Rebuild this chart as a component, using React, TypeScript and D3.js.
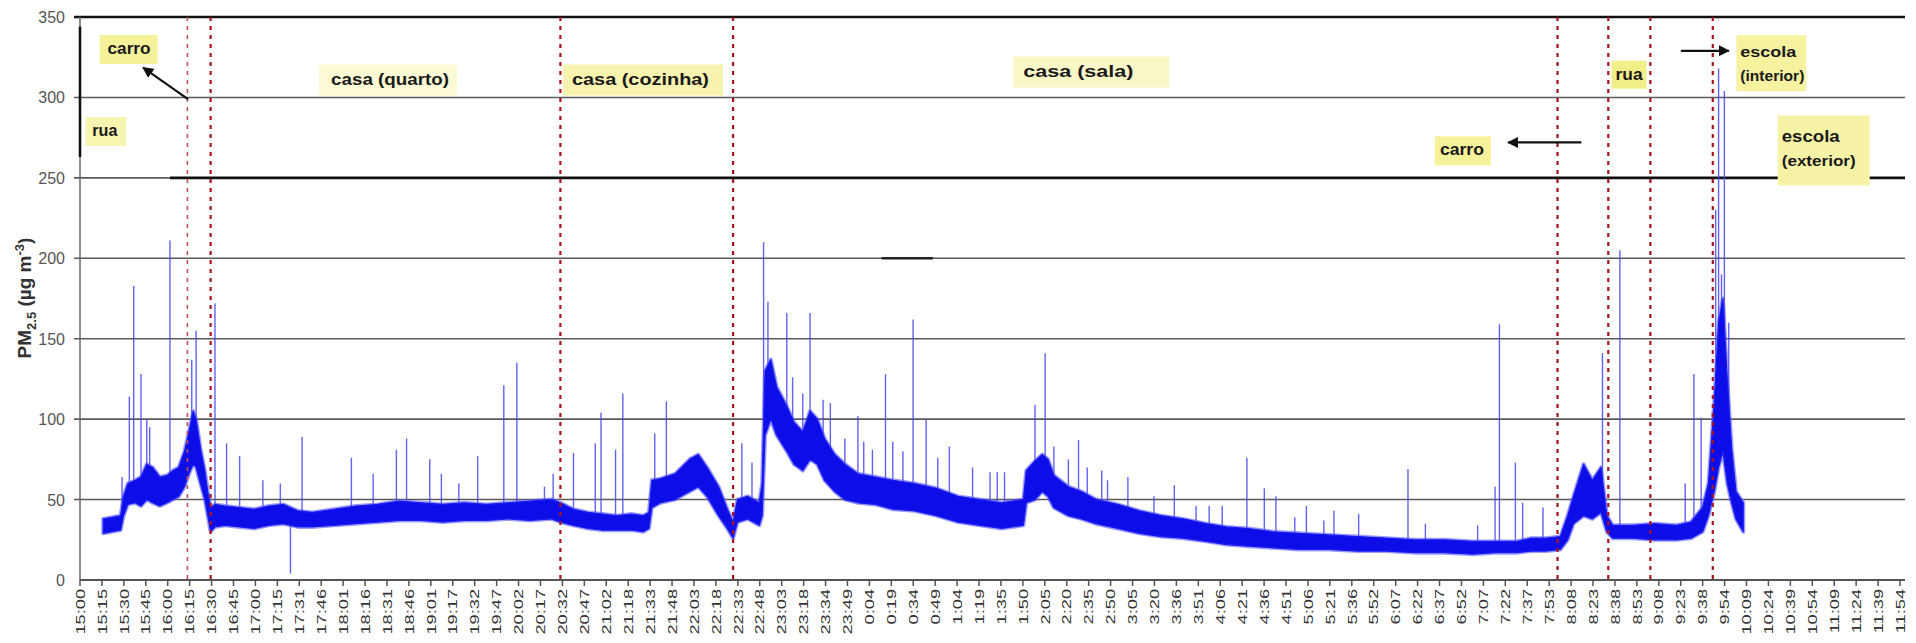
import React, { useEffect, useRef } from "react";
import * as d3 from "d3";

const W = 1916;
const H = 643;

// category labels of the time axis (one every ~15 min)
const tickLabels = [
  "15:00", "15:15", "15:30", "15:45", "16:00", "16:15", "16:30", "16:45",
  "17:00", "17:15", "17:31", "17:46", "18:01", "18:16", "18:31", "18:46",
  "19:01", "19:17", "19:32", "19:47", "20:02", "20:17", "20:32", "20:47",
  "21:02", "21:18", "21:33", "21:48", "22:03", "22:18", "22:33", "22:48",
  "23:03", "23:18", "23:34", "23:49", "0:04", "0:19", "0:34", "0:49",
  "1:04", "1:19", "1:35", "1:50", "2:05", "2:20", "2:35", "2:50",
  "3:05", "3:20", "3:36", "3:51", "4:06", "4:21", "4:36", "4:51",
  "5:06", "5:21", "5:36", "5:52", "6:07", "6:22", "6:37", "6:52",
  "7:07", "7:22", "7:37", "7:53", "8:08", "8:23", "8:38", "8:53",
  "9:08", "9:23", "9:38", "9:54", "10:09", "10:24", "10:39", "10:54",
  "11:09", "11:24", "11:39", "11:54",
];
const axisSpanMinutes = 1254; // 15:00 -> 11:54
const yTickValues = [0, 50, 100, 150, 200, 250, 300, 350];

// dense PM2.5 signal, read as lower / upper envelope (minutes after 15:00, µg m-3)
const bandTime = [
  16, 22, 28, 30, 33, 38, 42, 46, 50, 55, 60, 64, 68, 72, 75, 78, 80, 83, 86, 88,
  90, 93, 100, 110, 120, 130, 140, 150, 160, 175, 190, 205, 220, 235, 250, 265, 280, 295, 310, 325,
  331, 340, 350, 360, 370, 380, 388, 392, 394, 400, 410, 420, 426, 432, 440, 446, 450, 453, 460, 468,
  470, 472, 476, 480, 487, 492, 498, 503, 508, 513, 520, 527, 536, 548, 560, 575, 590, 605, 620, 635,
  650, 652, 658, 663, 667, 671, 681, 690, 700, 715, 730, 745, 760, 776, 790, 805, 822, 840, 860, 880,
  900, 920, 940, 960, 975, 990, 1000, 1010, 1020, 1025, 1029, 1036, 1042, 1048, 1052, 1056, 1070, 1085, 1100, 1110,
  1118, 1122, 1126, 1129, 1132, 1135, 1138, 1141, 1146,
];
const bandLow = [
  29, 30, 31, 40, 47, 48, 46, 50, 48, 46, 48, 50, 52, 58, 66, 72, 70, 60, 50, 40,
  30, 33, 34, 33, 32, 34, 35, 33, 33, 34, 35, 36, 37, 37, 36, 37, 37, 38, 37, 38,
  36, 34, 32, 31, 31, 31, 30, 32, 45, 48, 50, 55, 58, 52, 40, 32, 26, 36, 38, 34,
  40, 90, 100, 90, 80, 72, 68, 75, 72, 62, 55, 50, 48, 47, 44, 43, 40, 36, 34, 32,
  34, 48, 50, 55, 52, 45, 40, 38, 35, 32, 29, 27, 26, 24, 22, 21, 20, 19, 19, 18,
  18, 17, 17, 16, 17, 17, 18, 18, 19, 25, 35, 40, 38, 42, 30, 26, 26, 25, 25, 26,
  30, 40, 55, 70, 80, 60, 48, 38, 30,
];
const bandHigh = [
  38, 39, 40, 52, 60, 62, 64, 72, 70, 64, 65, 68, 70, 80, 92, 105, 100, 82, 68, 55,
  45, 47, 46, 45, 44, 46, 47, 43, 42, 44, 46, 47, 49, 48, 47, 48, 47, 48, 49, 50,
  48, 44, 42, 41, 40, 41, 40, 42, 62, 63, 66, 75, 78, 70, 58, 44, 36, 50, 52, 48,
  60, 130, 137, 120, 108, 98, 92, 105, 100, 88, 78, 72, 66, 64, 62, 60, 57, 52, 50, 48,
  50, 68, 74, 78, 75, 65, 58, 55, 50, 47, 43, 40, 38, 35, 33, 32, 30, 29, 28, 27,
  26, 25, 25, 24, 24, 24, 26, 26, 27, 40, 52, 72, 62, 70, 40, 34, 34, 35, 34, 36,
  45, 60, 110, 160, 175, 125, 82, 55, 48,
];

// isolated peaks of the signal (minutes after 15:00, µg m-3)
const spikeTime = [
  29, 34, 37, 42, 46, 48, 62, 77, 80, 93, 101, 110, 126, 138, 145, 153, 187, 202, 218, 225,
  241, 249, 261, 274, 292, 301, 320, 326, 340, 355, 359, 369, 374, 396, 404, 456, 463, 471, 474, 487,
  491, 498, 503, 512, 517, 527, 536, 540, 546, 555, 560, 567, 574, 583, 591, 599, 615, 627, 632, 637,
  658, 665, 671, 681, 688, 694, 704, 708, 722, 740, 754, 769, 778, 787, 804, 816, 824, 837, 845, 857,
  864, 881, 915, 927, 963, 975, 978, 989, 994, 1008, 1049, 1061, 1106, 1112, 1117, 1127, 1129, 1131, 1133, 1136,
];
const spikeValue = [
  64, 114, 183, 128, 100, 95, 211, 137, 155, 172, 85, 77, 62, 60, 4, 89, 76, 66, 81, 88,
  75, 66, 60, 77, 121, 135, 58, 66, 79, 85, 104, 81, 116, 91, 111, 85, 73, 210, 173, 166,
  126, 116, 166, 112, 110, 88, 102, 86, 81, 128, 86, 80, 162, 100, 76, 83, 70, 67, 67, 67,
  109, 141, 83, 75, 87, 70, 68, 62, 64, 52, 59, 46, 46, 46, 76, 57, 52, 39, 46, 37,
  43, 41, 69, 35, 34, 58, 159, 73, 48, 45, 141, 205, 60, 128, 101, 230, 318, 190, 304, 160,
];

// change of micro-environment (red dashed lines)
const eventTimes = ["16:14", "16:30", "20:31", "22:30", "7:58", "8:33", "9:02", "9:45"];

// text labels anchored in (minutes, µg m-3); len = rendered text width, pad = [l, t, r, b]
const annotations = [
  { lines: ["carro"], t: 19, v: 327, fill: "#f6f29a", size: [16], len: [43], pad: [8, 9, 7, 9] },
  { lines: ["rua"], t: 8.5, v: 276, fill: "#f8f5b0", size: [16], len: [25], pad: [7, 9, 9, 9] },
  { lines: ["casa (quarto)"], t: 173, v: 308, fill: "#fbfad4", size: [16], len: [118], pad: [12, 10, 8, 10] },
  { lines: ["casa (cozinha)"], t: 339, v: 308, fill: "#f8f4b0", size: [16], len: [137], pad: [9, 10, 14, 10] },
  { lines: ["casa (sala)"], t: 650, v: 313, fill: "#fbf8c8", size: [16], len: [110], pad: [10, 10, 36, 10] },
  { lines: ["carro"], t: 937, v: 264, fill: "#f6f29a", size: [16], len: [44], pad: [5, 9, 7, 9] },
  { lines: ["rua"], t: 1058, v: 311, fill: "#f3ef88", size: [16], len: [27], pad: [4, 9, 4, 8] },
  { lines: ["escola", "(interior)"], t: 1144, v: 325, fill: "#f6f2a0", size: [15, 14], len: [56, 64], pad: [4, 12, 2, 9] },
  { lines: ["escola", "(exterior)"], t: 1172.5, v: 272, fill: "#f7f3a6", size: [16, 14], len: [58, 74], pad: [4, 17, 14, 18] },
];

// arrows: [from (t, v), to (t, v)]
const arrows = [
  [[74.4, 299], [43.5, 318.5]],
  [[1034.5, 272], [984, 272]],
  [[1103, 329], [1136, 329]],
];

function toMinutes(s: string) {
  const [h, m] = s.split(":").map(Number);
  let t = h * 60 + m - 15 * 60;
  if (t < 0) t += 1440;
  return t;
}

export default function App() {
  const ref = useRef<SVGSVGElement | null>(null);

  useEffect(() => {
    const svg = d3.select(ref.current);
    svg.selectAll("*").remove();

    const left = 80;
    const right = 1905;
    const x = d3.scaleLinear().domain([0, axisSpanMinutes]).range([left, 1900]);
    const y = d3.scaleLinear().domain([0, 350]).range([580, 17]);
    const font = "'Liberation Sans', Arial, sans-serif";

    const defs = svg.append("defs");
    defs
      .append("marker")
      .attr("id", "arr")
      .attr("viewBox", "0 0 10 10")
      .attr("refX", 9)
      .attr("refY", 5)
      .attr("markerWidth", 5)
      .attr("markerHeight", 5)
      .attr("orient", "auto")
      .append("path")
      .attr("d", "M0,0 L10,5 L0,10 z")
      .attr("fill", "#111");

    svg.append("rect").attr("width", W).attr("height", H).attr("fill", "#fff");

    // gridlines
    svg
      .append("g")
      .selectAll("line")
      .data(yTickValues.filter((v) => v > 0))
      .join("line")
      .attr("x1", 74)
      .attr("x2", right)
      .attr("y1", (d) => y(d))
      .attr("y2", (d) => y(d))
      .attr("stroke", (d) => (d === 350 ? "#111" : "#5a5a5a"))
      .attr("stroke-width", (d) => (d === 350 ? 2.6 : 1.6));

    // thick reference line at 250
    svg
      .append("line")
      .attr("x1", x(62))
      .attr("x2", right)
      .attr("y1", y(250))
      .attr("y2", y(250))
      .attr("stroke", "#111")
      .attr("stroke-width", 2.6);

    // small dark stroke at 200
    svg
      .append("line")
      .attr("x1", x(553))
      .attr("x2", x(587))
      .attr("y1", y(200))
      .attr("y2", y(200))
      .attr("stroke", "#222")
      .attr("stroke-width", 2.6)
      .attr("stroke-linecap", "round");

    // y axis
    svg
      .append("line")
      .attr("x1", left)
      .attr("x2", left)
      .attr("y1", y(350))
      .attr("y2", y(0))
      .attr("stroke", "#666")
      .attr("stroke-width", 1.5);
    svg
      .append("line")
      .attr("x1", left)
      .attr("x2", left)
      .attr("y1", y(344))
      .attr("y2", y(263))
      .attr("stroke", "#111")
      .attr("stroke-width", 2.6);

    // y tick labels
    svg
      .append("g")
      .selectAll("text")
      .data(yTickValues)
      .join("text")
      .attr("x", 65)
      .attr("y", (d) => y(d) + 6)
      .attr("text-anchor", "end")
      .attr("font-family", font)
      .attr("font-size", 16)
      .attr("fill", "#555")
      .text((d) => String(d));

    // y title
    const yt = svg
      .append("text")
      .attr("transform", "translate(31,298) rotate(-90)")
      .attr("text-anchor", "middle")
      .attr("font-family", font)
      .attr("font-weight", "bold")
      .attr("font-size", 19)
      .attr("fill", "#333");
    yt.append("tspan").text("PM");
    yt.append("tspan").attr("font-size", 13).attr("dy", 5).text("2.5");
    yt.append("tspan").attr("dy", -5).text(" (µg m");
    yt.append("tspan").attr("font-size", 13).attr("dy", -7).text("-3");
    yt.append("tspan").attr("dy", 7).text(")");

    // x axis
    svg
      .append("line")
      .attr("x1", left)
      .attr("x2", right)
      .attr("y1", y(0))
      .attr("y2", y(0))
      .attr("stroke", "#555")
      .attr("stroke-width", 2);
    const tickPos = tickLabels.map((_, i) => x((i * axisSpanMinutes) / (tickLabels.length - 1)));
    svg
      .append("g")
      .selectAll("line")
      .data(tickPos)
      .join("line")
      .attr("x1", (d) => d)
      .attr("x2", (d) => d)
      .attr("y1", y(0))
      .attr("y2", y(0) + 6)
      .attr("stroke", "#555")
      .attr("stroke-width", 1.5);
    svg
      .append("g")
      .selectAll("text")
      .data(tickLabels)
      .join("text")
      .attr("transform", (_, i) => `translate(${tickPos[i] + 4.7},${y(0) + 9}) rotate(-90) scale(1.4,1)`)
      .attr("text-anchor", "end")
      .attr("font-family", font)
      .attr("font-size", 13)
      .attr("fill", "#333")
      .text((d) => d);

    // signal band
    const band = bandTime.map((t, i) => ({ t, lo: bandLow[i], hi: bandHigh[i] }));
    const bis = d3.bisector((d: any) => d.t).left;
    const bandAt = (t: number) => {
      const i = bis(band, t);
      if (i <= 0) return band[0];
      if (i >= band.length) return band[band.length - 1];
      const a = band[i - 1];
      const b = band[i];
      const f = (t - a.t) / (b.t - a.t);
      return { t, lo: a.lo + f * (b.lo - a.lo), hi: a.hi + f * (b.hi - a.hi) };
    };

    // spikes
    svg
      .append("g")
      .selectAll("line")
      .data(spikeTime.map((t, i) => ({ t, v: spikeValue[i] })))
      .join("line")
      .attr("x1", (d) => x(d.t))
      .attr("x2", (d) => x(d.t))
      .attr("y1", (d) => {
        const b = bandAt(d.t);
        return d.v < b.lo ? y(b.lo) : y((b.lo + b.hi) / 2);
      })
      .attr("y2", (d) => y(d.v))
      .attr("stroke", "#4646f4")
      .attr("stroke-opacity", 0.85)
      .attr("stroke-width", 1.4);

    const area = d3
      .area<any>()
      .x((d) => x(d.t))
      .y0((d) => y(d.lo))
      .y1((d) => y(d.hi))
      .curve(d3.curveLinear);
    // soft fringe
    svg
      .append("path")
      .attr("d", area(band) as string)
      .attr("fill", "none")
      .attr("stroke", "#5a5aff")
      .attr("stroke-opacity", 0.6)
      .attr("stroke-width", 4)
      .attr("stroke-linejoin", "round");
    svg
      .append("path")
      .attr("d", area(band) as string)
      .attr("fill", "#0d0de8")
      .attr("stroke", "#1a1af0")
      .attr("stroke-width", 1.2)
      .attr("stroke-linejoin", "round");

    // event lines
    svg
      .append("g")
      .selectAll("line")
      .data(eventTimes)
      .join("line")
      .attr("x1", (d) => x(toMinutes(d)))
      .attr("x2", (d) => x(toMinutes(d)))
      .attr("y1", y(350))
      .attr("y2", y(0))
      .attr("stroke", (_, i) => (i === 0 ? "#c0505a" : "#a8141c"))
      .attr("stroke-width", (_, i) => (i === 0 ? 1.6 : 2.2))
      .attr("stroke-dasharray", "4 5");

    // annotations
    annotations.forEach((a) => {
      const g = svg.append("g");
      const x0 = x(a.t);
      const y0 = y(a.v);
      const rect = g.append("rect");
      const texts = a.lines.map((ln, k) =>
        g
          .append("text")
          .attr("x", x0)
          .attr("y", y0 + k * 24)
          .attr("font-family", font)
          .attr("font-weight", "bold")
          .attr("font-size", a.size[k])
          .attr("textLength", a.len[k])
          .attr("lengthAdjust", "spacingAndGlyphs")
          .attr("fill", "#1a1a1a")
          .text(ln)
      );
      let bx0 = Infinity, by0 = Infinity, bx1 = -Infinity, by1 = -Infinity;
      texts.forEach((tx, k) => {
        const bb = (tx.node() as SVGTextElement).getBBox();
        bx0 = Math.min(bx0, x0);
        by0 = Math.min(by0, bb.y);
        bx1 = Math.max(bx1, x0 + a.len[k]);
        by1 = Math.max(by1, bb.y + bb.height);
      });
      const [pl, pt, pr, pb] = a.pad;
      rect
        .attr("x", bx0 - pl)
        .attr("y", by0 - pt + 4)
        .attr("width", bx1 - bx0 + pl + pr)
        .attr("height", by1 - by0 + pt + pb - 6)
        .attr("fill", a.fill);
    });

    // arrows
    svg
      .append("g")
      .selectAll("line")
      .data(arrows)
      .join("line")
      .attr("x1", (d: any) => x(d[0][0]))
      .attr("y1", (d: any) => y(d[0][1]))
      .attr("x2", (d: any) => x(d[1][0]))
      .attr("y2", (d: any) => y(d[1][1]))
      .attr("stroke", "#111")
      .attr("stroke-width", 2.2)
      .attr("marker-end", "url(#arr)");
  }, []);

  return (
    <svg
      ref={ref}
      width={W}
      height={H}
      style={{ position: "absolute", left: 0, top: 0, display: "block" }}
    />
  );
}
